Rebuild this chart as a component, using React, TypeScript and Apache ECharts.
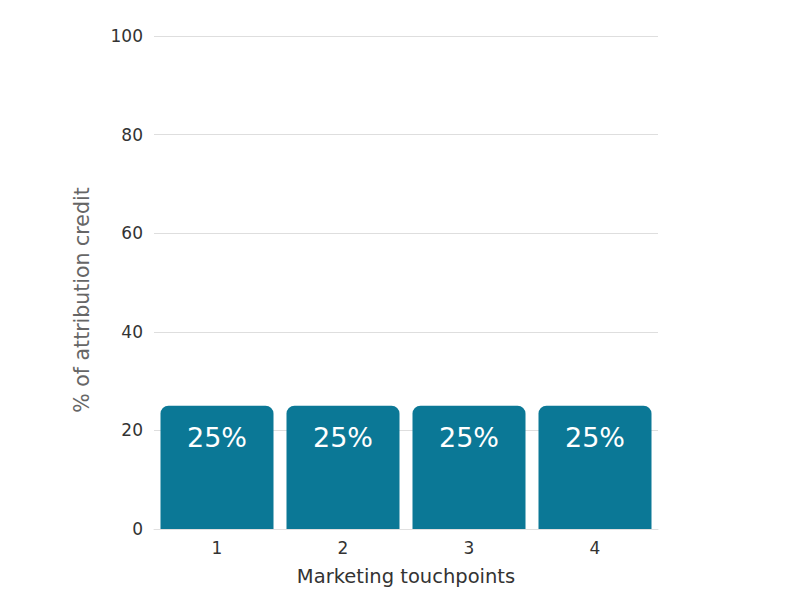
import React, { useEffect, useRef } from "react";
import * as echarts from "echarts";

const categories = ["1", "2", "3", "4"];
const values = [25, 25, 25, 25];
const yTicks = { min: 0, max: 100, interval: 20 };

export default function App() {
  const ref = useRef<HTMLDivElement>(null);
  useEffect(() => {
    if (!ref.current) return;
    const chart = echarts.init(ref.current, null, { renderer: "svg" });
    const font = "'DejaVu Sans', 'Open Sans', sans-serif";
    chart.setOption({
      animation: false,
      backgroundColor: "#ffffff",
      textStyle: { fontFamily: font },
      grid: { left: 154, right: 142, top: 36, bottom: 71, containLabel: false },
      xAxis: {
        type: "category",
        data: categories,
        name: "Marketing touchpoints",
        nameLocation: "middle",
        nameGap: 37,
        nameTextStyle: { fontSize: 19.5, color: "#333", fontFamily: font },
        axisLine: { show: true, lineStyle: { color: "#e0e0e0" } },
        axisTick: { show: false },
        axisLabel: { fontSize: 17, color: "#333", margin: 10, fontFamily: font },
      },
      yAxis: {
        type: "value",
        min: yTicks.min,
        max: yTicks.max,
        interval: yTicks.interval,
        axisLine: { show: false },
        axisTick: { show: false },
        axisLabel: { fontSize: 17, color: "#333", margin: 11, fontFamily: font },
        splitLine: { lineStyle: { color: "#dedede" } },
      },
      graphic: [
        {
          type: "text",
          x: 82,
          y: 300,
          rotation: Math.PI / 2,
          style: {
            text: "% of attribution credit",
            fontSize: 20.5,
            fill: "#666",
            fontFamily: font,
            align: "center",
            verticalAlign: "middle",
          },
        },
      ],
      series: [
        {
          type: "bar",
          data: values,
          barWidth: 113,
          itemStyle: { color: "#0b7896", borderRadius: [8, 8, 0, 0] },
          label: {
            show: true,
            position: "insideTop",
            distance: 18,
            formatter: "{c}%",
            color: "#ffffff",
            fontSize: 27,
            fontFamily: font,
          },
        },
      ],
    });
    return () => chart.dispose();
  }, []);
  return <div ref={ref} style={{ width: 800, height: 600, margin: -8 }} />;
}
